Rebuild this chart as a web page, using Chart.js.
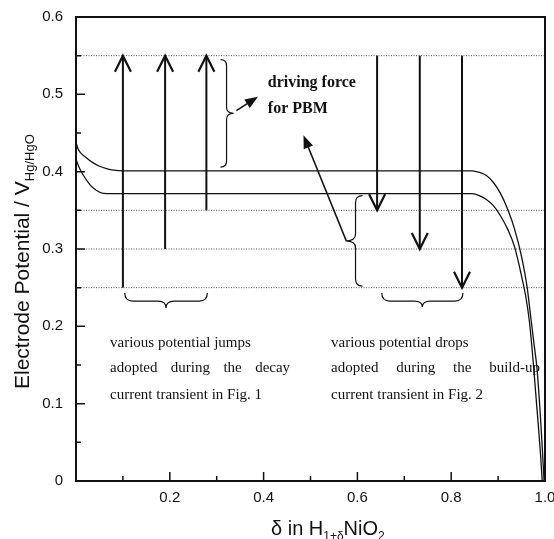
<!DOCTYPE html>
<html>
<head>
<meta charset="utf-8">
<script src="https://cdn.jsdelivr.net/npm/chart.js@4.4.1/dist/chart.umd.min.js"></script>
<style>
  html, body { margin: 0; padding: 0; background: #fff; }
  #wrap { width: 554px; height: 539px; }
</style>
</head>
<body>
<div id="wrap"><canvas id="grafico"></canvas></div>
<script>
// Dados
const deltaUpper = [0, 0.004, 0.009, 0.02, 0.035, 0.05, 0.065, 0.08, 0.1, 0.3, 0.5, 0.7, 0.845, 0.86, 0.875, 0.89, 0.905, 0.92, 0.935, 0.95, 0.962, 0.969, 0.976, 0.983, 0.989, 0.994, 0.998];
const potUpper   = [0.438, 0.43, 0.425, 0.419, 0.412, 0.407, 0.404, 0.402, 0.401, 0.401, 0.401, 0.401, 0.401, 0.399, 0.395, 0.386, 0.372, 0.352, 0.326, 0.29, 0.25, 0.215, 0.18, 0.145, 0.095, 0.045, 0];
const deltaLower = [0, 0.007, 0.015, 0.03, 0.043, 0.058, 0.08, 0.3, 0.5, 0.7, 0.845, 0.86, 0.875, 0.89, 0.905, 0.92, 0.935, 0.95, 0.96, 0.967, 0.974, 0.98, 0.986, 0.991, 0.994];
const potLower   = [0.416, 0.405, 0.396, 0.383, 0.376, 0.372, 0.3715, 0.3715, 0.3715, 0.3715, 0.3715, 0.369, 0.364, 0.356, 0.343, 0.326, 0.303, 0.265, 0.235, 0.205, 0.16, 0.115, 0.07, 0.03, 0];

const guideLevels = [0.55, 0.35, 0.30, 0.25];
const jumpDelta = [0.100, 0.190, 0.278];
const jumpFrom  = [0.25, 0.30, 0.35];
const dropDelta = [0.642, 0.733, 0.823];
const dropTo    = [0.35, 0.30, 0.25];
const arrowTop  = 0.55;

const xTickLabels = ['', '0.2', '0.4', '0.6', '0.8', '1.0'];
const yTickLabels = ['0', '0.1', '0.2', '0.3', '0.4', '0.5', '0.6'];

// Anotações (coordenadas em unidades dos eixos)
const textoJumps = ['various potential jumps', 'adopted during the decay', 'current transient in Fig. 1'];
const textoDrops = ['various potential drops', 'adopted during the build-up', 'current transient in Fig. 2'];
const textoPBM = ['driving force', 'for PBM'];

const tinta = '#111';

function pontos(xs, ys) {
  return xs.map((x, i) => ({ x: x, y: ys[i] }));
}

const datasets = [
  { data: pontos(deltaUpper, potUpper), borderWidth: 1.3 },
  { data: pontos(deltaLower, potLower), borderWidth: 1.3 }
];
guideLevels.forEach(v => {
  datasets.push({ data: [{ x: 0, y: v }, { x: 1, y: v }], borderWidth: 1, borderColor: '#555', borderDash: [1, 1.5] });
});
jumpDelta.forEach((d, i) => {
  datasets.push({ data: [{ x: d, y: jumpFrom[i] }, { x: d, y: arrowTop }], borderWidth: 2 });
});
dropDelta.forEach((d, i) => {
  datasets.push({ data: [{ x: d, y: arrowTop }, { x: d, y: dropTo[i] }], borderWidth: 2 });
});
datasets.forEach(ds => {
  ds.showLine = true;
  ds.pointRadius = 0;
  ds.borderColor = ds.borderColor || tinta;
  ds.cubicInterpolationMode = 'monotone';
});

// helpers de desenho
function setaCheia(ctx, x0, y0, x1, y1) {
  const ang = Math.atan2(y1 - y0, x1 - x0);
  const tam = 13, meia = 5;
  ctx.beginPath();
  ctx.moveTo(x0, y0);
  ctx.lineTo(x1 - Math.cos(ang) * tam * 0.7, y1 - Math.sin(ang) * tam * 0.7);
  ctx.stroke();
  ctx.beginPath();
  ctx.moveTo(x1, y1);
  ctx.lineTo(x1 - tam * Math.cos(ang) + meia * Math.sin(ang), y1 - tam * Math.sin(ang) - meia * Math.cos(ang));
  ctx.lineTo(x1 - tam * Math.cos(ang) - meia * Math.sin(ang), y1 - tam * Math.sin(ang) + meia * Math.cos(ang));
  ctx.closePath();
  ctx.fill();
}

function pontaAberta(ctx, x, y, dir) {
  // dir = 1: seta para cima, -1: para baixo
  ctx.beginPath();
  ctx.moveTo(x - 8, y + dir * 16);
  ctx.lineTo(x, y);
  ctx.lineTo(x + 8, y + dir * 16);
  ctx.stroke();
}

function chaveV(ctx, x, yTop, yBot, dir, curl, tip) {
  const ym = (yTop + yBot) / 2;
  const r = curl;
  ctx.beginPath();
  ctx.moveTo(x - dir * r, yTop);
  ctx.quadraticCurveTo(x, yTop, x, yTop + r);
  ctx.lineTo(x, ym - r);
  ctx.quadraticCurveTo(x, ym, x + dir * tip, ym);
  ctx.quadraticCurveTo(x, ym, x, ym + r);
  ctx.lineTo(x, yBot - r);
  ctx.quadraticCurveTo(x, yBot, x - dir * r, yBot);
  ctx.stroke();
}

function chaveH(ctx, xL, xR, y, curl, tip) {
  const xm = (xL + xR) / 2;
  const r = curl;
  const yb = y + r;
  ctx.beginPath();
  ctx.moveTo(xL, y);
  ctx.quadraticCurveTo(xL, yb, xL + r, yb);
  ctx.lineTo(xm - r, yb);
  ctx.quadraticCurveTo(xm, yb, xm, yb + tip);
  ctx.quadraticCurveTo(xm, yb, xm + r, yb);
  ctx.lineTo(xR - r, yb);
  ctx.quadraticCurveTo(xR, yb, xR, y);
  ctx.stroke();
}

function linhaJust(ctx, txt, x, y, largura) {
  if (!largura) { ctx.fillText(txt, x, y); return; }
  const palavras = txt.split(' ');
  const soma = palavras.reduce((s, p) => s + ctx.measureText(p).width, 0);
  const gap = (largura - soma) / (palavras.length - 1);
  let cx = x;
  palavras.forEach(p => {
    ctx.fillText(p, cx, y);
    cx += ctx.measureText(p).width + gap;
  });
}

const anotacoes = {
  id: 'anotacoes',
  afterDraw(chart) {
    const ctx = chart.ctx;
    const xs = chart.scales.x, ys = chart.scales.y;
    const px = v => xs.getPixelForValue(v);
    const py = v => ys.getPixelForValue(v);
    const area = chart.chartArea;

    ctx.save();
    ctx.strokeStyle = tinta;
    ctx.fillStyle = tinta;

    // pontas das setas verticais
    ctx.lineWidth = 2.2;
    jumpDelta.forEach(d => pontaAberta(ctx, px(d), py(arrowTop), 1));
    dropDelta.forEach((d, i) => pontaAberta(ctx, px(d), py(dropTo[i]), -1));

    // chaves
    ctx.lineWidth = 1.2;
    chaveV(ctx, px(0.321), py(0.545), py(0.406), 1, 6, 7);
    chaveV(ctx, px(0.596), py(0.369), py(0.252), -1, 7, 10);
    chaveH(ctx, px(0.104), px(0.280), py(0.243), 8, 7);
    chaveH(ctx, px(0.652), px(0.825), py(0.243), 8, 6);

    // setas cheias
    ctx.lineWidth = 1.6;
    setaCheia(ctx, px(0.342), py(0.479), px(0.388), py(0.497));
    setaCheia(ctx, px(0.576), py(0.311), px(0.485), py(0.447));

    // textos
    ctx.textAlign = 'left';
    ctx.textBaseline = 'alphabetic';
    ctx.font = 'bold 16px "Liberation Serif", serif';
    ctx.fillText(textoPBM[0], px(0.409), py(0.5097));
    ctx.fillText(textoPBM[1], px(0.409), py(0.476));

    ctx.font = '15px "Liberation Serif", serif';
    const linhasY = [0.1734, 0.141, 0.106];
    textoJumps.forEach((t, i) => linhaJust(ctx, t, px(0.0725), py(linhasY[i]), i === 1 ? px(0.0725 + 0.384) - px(0.0725) : 0));
    textoDrops.forEach((t, i) => linhaJust(ctx, t, px(0.5437), py(linhasY[i]), i === 1 ? px(0.5437 + 0.4456) - px(0.5437) : 0));

    // moldura e ticks internos
    ctx.lineWidth = 2;
    ctx.strokeRect(area.left, area.top, area.right - area.left, area.bottom - area.top);
    ctx.lineWidth = 1.5;
    ctx.beginPath();
    for (let k = 1; k < 10; k++) {
      const x = px(k / 10);
      const len = k % 2 === 0 ? 9 : 5;
      ctx.moveTo(x, area.bottom);
      ctx.lineTo(x, area.bottom - len);
    }
    for (let k = 1; k < 12; k++) {
      const y = py(k * 0.05);
      const len = k % 2 === 0 ? 9 : 5;
      ctx.moveTo(area.left, y);
      ctx.lineTo(area.left + len, y);
    }
    ctx.stroke();

    // títulos dos eixos (com subscritos)
    let x = 271;
    const yb = 535;
    const partesX = [['\u03b4 in H', 20, 0], ['1+\u03b4', 12, 5], ['NiO', 20, 0], ['2', 12, 5]];
    partesX.forEach(p => {
      ctx.font = p[1] + 'px "Liberation Sans", Arial, sans-serif';
      ctx.fillText(p[0], x, yb + p[2]);
      x += ctx.measureText(p[0]).width;
    });

    ctx.save();
    ctx.translate(29, 389);
    ctx.rotate(-Math.PI / 2);
    let t = 0;
    const partesY = [['Electrode Potential / V', 21, 0], ['Hg/HgO', 13, 5]];
    partesY.forEach(p => {
      ctx.font = p[1] + 'px "Liberation Sans", Arial, sans-serif';
      ctx.fillText(p[0], t, p[2]);
      t += ctx.measureText(p[0]).width;
    });
    ctx.restore();

    ctx.restore();
  }
};

const grafico = new Chart(document.getElementById('grafico'), {
  type: 'scatter',
  data: { datasets: datasets },
  options: {
    responsive: true,
    maintainAspectRatio: false,
    animation: false,
    layout: { padding: { top: 17, right: 9, left: 0, bottom: 0 } },
    plugins: { legend: { display: false }, tooltip: { enabled: false } },
    scales: {
      x: {
        type: 'linear', min: 0, max: 1,
        grid: { display: false, drawTicks: false },
        border: { display: false },
        ticks: {
          stepSize: 0.2, padding: 8, color: tinta, maxRotation: 0,
          font: { family: '"Liberation Sans", Arial, sans-serif', size: 15 },
          callback: (v, i) => xTickLabels[i]
        },
        afterFit: s => { s.height = 58; s.paddingLeft = 0; s.paddingRight = 0; }
      },
      y: {
        type: 'linear', min: 0, max: 0.6,
        grid: { display: false, drawTicks: false },
        border: { display: false },
        ticks: {
          stepSize: 0.1, padding: 13, color: tinta,
          font: { family: '"Liberation Sans", Arial, sans-serif', size: 15 },
          callback: (v, i) => yTickLabels[i]
        },
        afterFit: s => { s.width = 76; s.paddingTop = 0; s.paddingBottom = 0; }
      }
    }
  },
  plugins: [anotacoes]
});
</script>
</body>
</html>
